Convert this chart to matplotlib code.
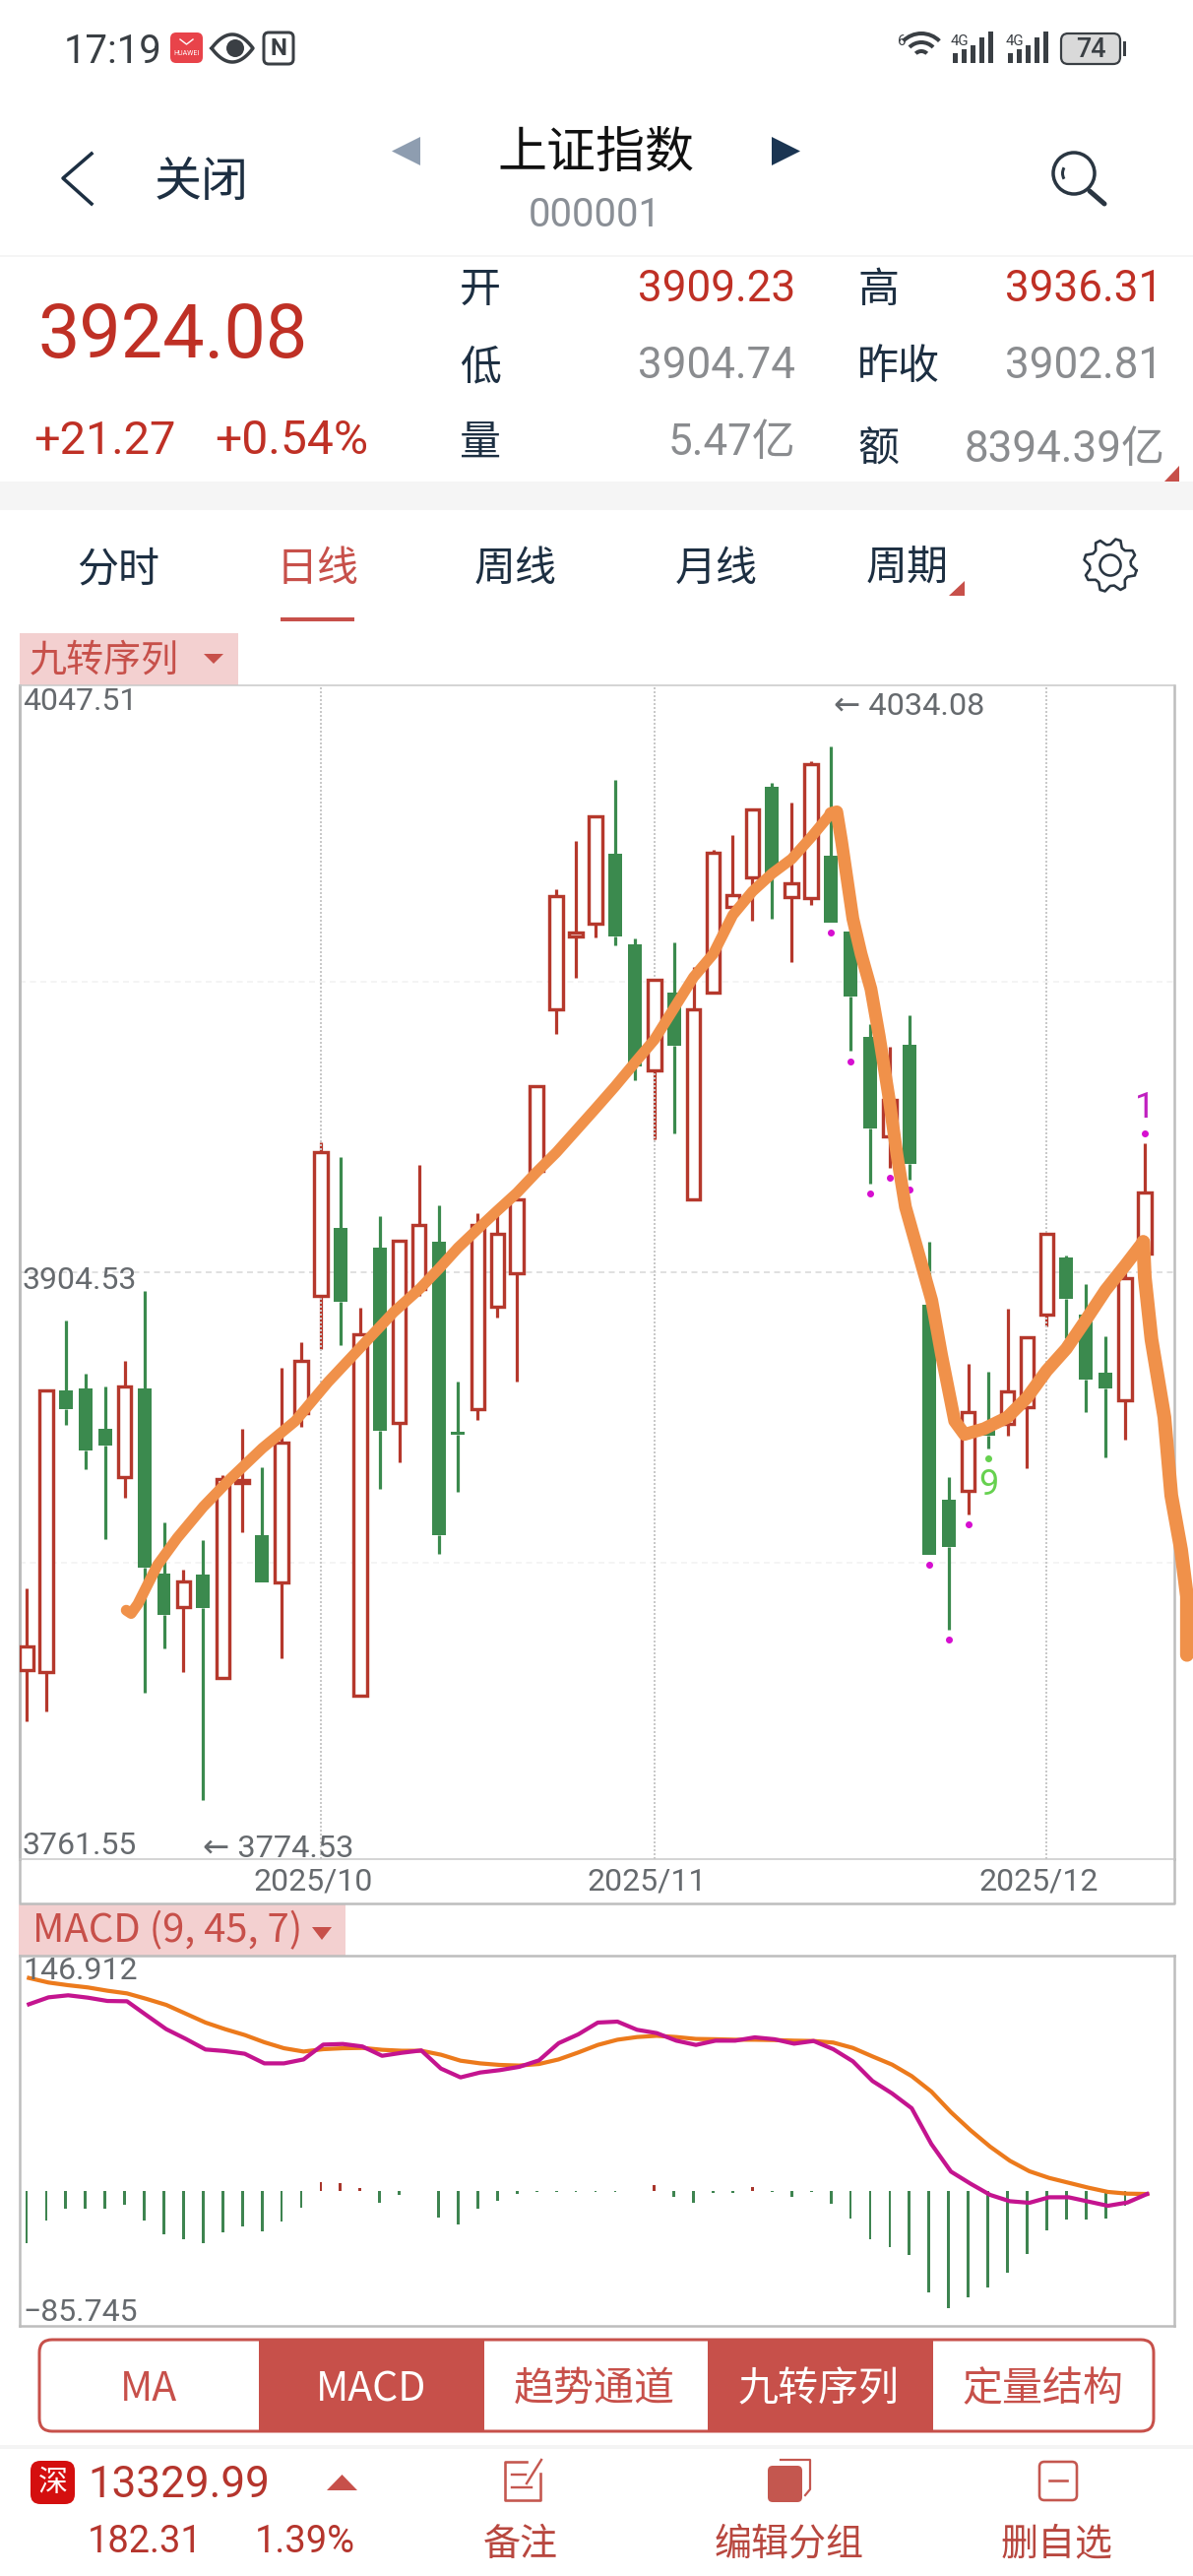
import numpy as np
import matplotlib
matplotlib.use("Agg")
import matplotlib.pyplot as plt
from matplotlib.patches import Rectangle, FancyBboxPatch, Polygon, Circle, Wedge
from matplotlib.transforms import ScaledTranslation

plt.rcParams['font.family'] = ['Noto Sans CJK SC', 'DejaVu Sans']

# ------------------------- data -------------------------
opens = [3806.5,3806.1,3875.4,3875.9,3866.0,3854.2,3875.9,3830.3,3822.0,3830.1,
         3804.6,3852.7,3839.7,3828.2,3869.8,3898.6,3915.4,3800.2,3910.6,3867.5,
         3900.5,3912.0,3865.2,3870.9,3896.1,3904.3,3929.6,3969.3,3987.2,3990.4,
         4007.7,3985.2,3954.2,3973.5,3922.5,3973.5,3994.6,4001.7,4024.0,3996.8,
         3996.6,4007.1,3988.5,3962.4,3937.9,3960.5,3896.6,3848.5,3850.6,3866.0,
         3867.3,3871.3,3894.1,3908.1,3894.0,3879.8,3873.0,3909.23]
closes = [3812.3,3875.4,3870.8,3860.6,3861.9,3876.3,3831.8,3820.1,3828.5,3821.8,
          3853.5,3853.3,3828.2,3862.7,3882.8,3934.0,3897.2,3889.3,3865.4,3912.4,
          3916.2,3839.9,3864.4,3916.2,3913.9,3922.5,3950.3,3997.1,3988.3,4016.7,
          3987.2,3955.1,3976.6,3960.3,3969.3,4007.9,3997.5,4018.6,4002.7,4000.2,
          4029.7,3990.6,3972.4,3940.0,3946.9,3931.2,3834.9,3836.8,3870.0,3864.2,
          3875.2,3888.6,3914.1,3898.0,3878.0,3875.9,3903.0,3924.08]
highs = [3826.7,3875.4,3892.6,3879.6,3876.5,3882.6,3899.9,3842.9,3831.4,3838.5,
         3854.6,3866.0,3856.5,3880.9,3887.4,3936.5,3932.9,3895.7,3918.3,3912.4,
         3931.0,3921.0,3877.6,3919.1,3918.7,3922.5,3950.3,3998.9,4010.8,4016.7,
         4025.7,3986.8,3976.8,3985.8,3979.7,4008.6,4012.1,4018.8,4025.1,4020.3,
         4030.3,4034.08,3988.7,3965.7,3960.1,3967.8,3912.0,3854.1,3882.1,3880.0,
         3895.5,3888.6,3914.3,3908.7,3901.6,3888.8,3907.8,3936.31]
lows = [3794.0,3796.5,3866.9,3856.0,3838.7,3849.1,3801.1,3811.9,3806.1,3774.53,
        3804.6,3840.6,3828.2,3809.4,3866.5,3885.7,3886.5,3800.2,3851.2,3857.7,
        3898.6,3835.3,3850.4,3868.1,3893.4,3877.6,3929.2,3963.2,3977.0,3987.0,
        3985.1,3951.9,3937.3,3938.6,3922.5,3973.5,3991.6,3991.0,3991.6,3980.8,
        3995.0,3990.6,3959.0,3926.4,3930.2,3927.3,3834.9,3816.5,3845.0,3861.2,
        3864.2,3856.2,3891.1,3888.2,3870.0,3859.0,3863.3,3904.74]

sell_setup_days = [41,42,43,44,45,46,47,48]
nine_day = 49
one_day = 57

pen_x = [5.08,5.33,5.67,6.67,7.68,9.01,10.35,12.02,13.70,15.37,17.04,18.71,20.05,
         21,22,23,24,25,26,27,28,29,30,31,32,33,34,35,36,37,38,39,40,41,41.3]
pen_y = [3821.3,3820.5,3822.8,3832.4,3839.1,3846.8,3853.5,3861.2,3867.9,3877.5,3886.1,3894.7,3900.5,
         3905.3,3910.6,3915.2,3919.7,3924.1,3929.2,3934.0,3939.4,3944.8,3950.3,3956.1,3961.8,3969.5,
         3977.2,3982.9,3992.5,3998.3,4002.7,4006.3,4011.7,4017.5,4017.9]
pen2_x = [41.0,41.3,41.54,42.12,42.54,43.04,43.46,43.96,44.38,44.80,45.47,46.14,46.64,47.31,47.81,48.81,
          49.99,50.99,52,53,54,55,56,56.92]
pen2_y = [4017.5,4017.9,4010.8,3991.6,3982.9,3974.3,3962.8,3947.5,3933.1,3920.6,3909.1,3897.6,3884.2,3867.9,
          3864.6,3866.0,3868.8,3873.6,3880.3,3885.7,3892.8,3900.1,3906.2,3912.0]
pen3_x = [56.92,57.0,57.34,58.0,58.35,58.85,59.15,59.15]
pen3_y = [3912.0,3903.3,3888.0,3868.8,3849.6,3836.2,3824.7,3810.3]

macd_hist = [-33.3,-18.5,-11.5,-11.0,-11.25,-9.0,-19.0,-27.7,-30.4,-33.1,
             -26.5,-22.3,-25.6,-19.2,-10.4,5.6,5.2,1.7,-7.5,-2.5,
             -0.2,-17.1,-21.3,-11.25,-6.5,-2.1,-0.5,-0.5,-0.5,-0.4,
             -0.4,-0.3,4.0,-4.0,-7.5,-1.0,-1.0,2.5,-0.4,-4.0,
             -0.4,-8.3,-17.7,-30.8,-35.6,-40.8,-64.6,-74.2,-67.7,-61.5,
             -51.9,-40.0,-24.8,-18.3,-18.1,-17.3,-9.4,-0.2]
dif = [118.5,122.9,124.2,122.7,120.6,120.4,111.5,102.7,96.5,89.8,
       88.8,87.1,81.0,81.0,83.5,92.9,93.3,91.7,85.8,87.7,
       89.2,77.7,72.1,75.2,76.7,78.8,82.9,93.8,99.4,106.9,
       107.5,102.3,100.2,95.4,92.7,95.4,95.4,97.5,96.3,93.5,
       95.2,90.0,82.3,69.8,61.9,52.5,29.8,12.3,4.6,-2.5,
       -6.5,-7.5,-4.0,-4.0,-6.7,-9.4,-7.3,-1.9]
dea = [135.2,132.3,130.6,129.2,127.1,125.4,121.9,118.1,112.5,106.9,
       102.7,99.0,94.4,90.6,88.5,90.0,90.6,90.8,89.6,89.0,
       89.0,86.5,82.7,81.0,80.0,79.6,80.6,83.5,87.9,92.7,
       96.0,97.7,98.5,97.7,96.5,96.3,96.0,96.0,95.8,95.4,
       95.2,94.2,90.8,85.4,80.2,72.9,63.1,50.0,38.5,28.1,
       19.2,12.5,8.3,5.2,2.1,-0.6,-1.7,-1.9]

month_pos = [15, 32, 52]
month_labels = ['2025/10', '2025/11', '2025/12']
price_labels = ['4047.51', '3904.53', '3761.55']

# ------------------------- style -------------------------
W, H = 1212, 2616
DPI = 100
RED = '#b5382c'
GREEN = '#3b8a4e'
UI_RED = '#c7504a'
PALE = '#f3d0d0'
GRAY = '#666a6e'
NAVY = '#1d2f42'
FRAME = '#bdbdbd'
SANS = ['Noto Sans CJK SC', 'DejaVu Sans']
NUM = ['Roboto', 'DejaVu Sans']

def px(v):
    return v * 72.0 / DPI

fig = plt.figure(figsize=(W / DPI, H / DPI), dpi=DPI, facecolor='white')

def box(l, t, r, b):
    return [l / W, 1 - b / H, (r - l) / W, (b - t) / H]

ui = fig.add_axes([0, 0, 1, 1], zorder=0)
ui.set_xlim(0, W); ui.set_ylim(H, 0); ui.axis('off')

TEXT_DY = 4  # glyph boxes sit a little high when centred

def T(x, y, s, size, color=NAVY, ha='left', fam=SANS, weight='normal', a=ui, **kw):
    return a.text(x, y + TEXT_DY, s, fontsize=px(size), color=color, ha=ha, va='center',
                  family=fam, fontweight=weight, **kw)

def tri(pts, color, a=ui):
    a.add_patch(Polygon(pts, closed=True, fc=color, ec='none'))

# ---- status bar
T(65, 49, '17:19', 40, '#3a3f44', fam=NUM)
ui.add_patch(FancyBboxPatch((176, 36), 27, 25, boxstyle='round,pad=3,rounding_size=6', fc='#e8434a', ec='none'))
ui.text(189.5, 54, 'HUAWEI', fontsize=px(7), color='white', ha='center', va='center', family=NUM)
ui.plot([183, 189.5, 196], [40, 45, 40], color='white', lw=1)
ex = np.linspace(-21, 21, 41)
ey = 14 * (1 - (ex / 21) ** 2)
ui.plot(np.r_[236 + ex, 236 - ex], np.r_[49 - ey, 49 + ey[::-1]], color='#3a3f44', lw=px(3.5))
ui.add_patch(Circle((239, 49), 9, fc='#3a3f44', ec='none'))
ui.add_patch(FancyBboxPatch((271, 36), 24, 26, boxstyle='round,pad=3,rounding_size=5', fc='none', ec='#3a3f44', lw=px(3)))
ui.text(283, 50, 'N', fontsize=px(24), color='#3a3f44', ha='center', va='center', family=NUM, fontweight='bold')
ui.text(912, 42, '6', fontsize=px(15), color='#3a3f44', family=NUM, va='center')
for r in (28, 19, 10):
    ui.add_patch(Wedge((936, 60), r, 225, 315, width=4, fc='#3a3f44', ec='none'))
for x0_ in (968, 1024):
    ui.text(x0_ - 2, 42, '4G', fontsize=px(15), color='#3a3f44', family=NUM, va='center')
    for i, h in enumerate((10, 14, 18, 26, 32)):
        ui.add_patch(Rectangle((x0_ + i * 9, 64 - h), 5, h, fc='#3a3f44', ec='none'))
ui.add_patch(FancyBboxPatch((1080, 36), 56, 27, boxstyle='round,pad=2,rounding_size=7', fc='#d9d9d9', ec='#3a3f44', lw=px(2.2)))
ui.add_patch(Rectangle((1141, 42), 3, 15, fc='#3a3f44', ec='none'))
ui.text(1108, 50, '74', fontsize=px(27), color='#3a3f44', ha='center', va='center', family=NUM, fontweight='medium')

# ---- title row
ui.plot([93, 64, 93], [156, 181, 207], color=NAVY, lw=px(3.5))
T(157, 181, '关闭', 48)
tri([(427, 139), (427, 168), (398, 153.5)], '#8e9db0')
tri([(784, 139), (784, 168), (813, 153.5)], '#1b3552')
T(605, 152, '上证指数', 50, '#111111', ha='center', weight='medium')
T(604, 214, '000001', 40, '#8a8f96', ha='center', fam=NUM)
ui.add_patch(Circle((1091, 176), 21, fc='none', ec='#2a3642', lw=px(3.5)))
ui.plot([1107, 1122], [194, 207], color='#2a3642', lw=px(5), solid_capstyle='round')
ui.add_patch(Wedge((1091, 176), 13, 150, 210, width=3, fc='#2a3642', ec='none'))
ui.add_patch(Rectangle((0, 259), W, 2, fc='#f5f5f5', ec='none'))

# ---- quote block
QRED = '#bf3025'
QGRAY = '#8a8c8f'
T(38, 338, '3924.08', 75.5, QRED, fam=NUM)
T(34, 444, '+21.27', 47, QRED, fam=NUM)
T(218, 444, '+0.54%', 48, QRED, fam=NUM)
for y, s in ((291, '开'), (369, '低'), (447, '量')):
    T(467, y, s, 42)
for y, s in ((291, '高'), (369, '昨收'), (453, '额')):
    T(871, y, s, 42)
T(808, 290, '3909.23', 44, QRED, ha='right', fam=NUM)
T(808, 368, '3904.74', 44, QGRAY, ha='right', fam=NUM)
T(808, 446, '5.47亿', 44, QGRAY, ha='right', fam=NUM + SANS)
T(1181, 290, '3936.31', 44, QRED, ha='right', fam=NUM)
T(1181, 368, '3902.81', 44, QGRAY, ha='right', fam=NUM)
T(1184, 453, '8394.39亿', 44, QGRAY, ha='right', fam=NUM + SANS)
tri([(1198, 473), (1198, 489), (1183, 489)], UI_RED)
ui.add_patch(Rectangle((0, 489), W, 29, fc='#f5f5f5', ec='none'))

# ---- period tabs
for cx, s, c in ((120, '分时', NAVY), (323, '日线', UI_RED), (524, '周线', NAVY), (728, '月线', NAVY), (922, '周期', NAVY)):
    T(cx, 574, s, 42, c, ha='center')
ui.add_patch(Rectangle((285, 627), 75, 3.5, fc=UI_RED, ec='none'))
tri([(980, 590), (980, 605), (964, 605)], UI_RED)
n = 8
th = np.linspace(0, 2 * np.pi, n * 4 + 1)
rr = np.tile([27, 27, 21, 21], n + 1)[:len(th)]
ui.plot(1128 + rr * np.cos(th + 0.2), 574 + rr * np.sin(th + 0.2), color='#2a3642', lw=px(2.6))
ui.add_patch(Circle((1128, 574), 10.5, fc='none', ec='#2a3642', lw=px(2.6)))

# ---- indicator tabs
ui.add_patch(Rectangle((20, 643), 222, 53, fc=PALE, ec='none'))
T(30, 667, '九转序列', 38, UI_RED)
tri([(207, 664), (227, 664), (217, 674)], UI_RED)
ui.add_patch(Rectangle((19, 1934), 332, 52, fc=PALE, ec='none'))
T(33, 1957, 'MACD (9, 45, 7)', 40, UI_RED)
tri([(317, 1957), (337, 1957), (327, 1970)], UI_RED)

# ---- x-axis strip frame
ui.plot([20, 20, 1193, 1193], [1888, 1933, 1933, 1888], color=FRAME, lw=px(2.5))

# ------------------------- price axes -------------------------
ax = fig.add_axes(box(20, 696, 1193, 1888), zorder=2)
SLOT = 19.93
x0 = (20 - 27) / SLOT
x1 = (1193 - 27) / SLOT
ax.set_xlim(x0, x1)
PX_PER_PT = 4.124
ax.set_ylim(3904.53 - (1888 - 1292) / PX_PER_PT, 3904.53 + (1292 - 696) / PX_PER_PT)
ax.patch.set_alpha(0)
for s in ax.spines.values():
    s.set_color('#c8c8c8'); s.set_linewidth(px(1.5))
ax.spines['left'].set_linewidth(px(3)); ax.spines['left'].set_color(FRAME)
ax.spines['right'].set_linewidth(px(2.5)); ax.spines['right'].set_color(FRAME)

xs = np.arange(len(opens))
o, c, hi, lo = map(np.array, (opens, closes, highs, lows))
up = c >= o
top = np.maximum(o, c)
bot = np.minimum(o, c)
cols = np.where(up, RED, GREEN)

# wicks
ax.vlines(xs, top, hi, colors=cols, lw=px(3.2), zorder=1)
ax.vlines(xs, lo, bot, colors=cols, lw=px(3.2), zorder=1)
# grid
ax.set_yticks([4047.51, 3904.53, 3761.55])
ax.set_yticklabels([])
ax.tick_params(axis='y', length=0)
ax.axhline(3904.53, color='#d6d6d6', lw=px(1.5), ls=(0, (4, 3)), zorder=2)
for lev in (3976.0, 3833.0):
    ax.axhline(lev, color='#f1f1f1', lw=px(1.5), ls=(0, (4, 3)), zorder=0)
for p in month_pos:
    ax.axvline(p, color='#c9c9c9', lw=px(2), ls=(0, (1, 1)), zorder=2)
# bodies
ax.bar(xs[up], (top - bot)[up], bottom=bot[up], width=0.68, facecolor='white', edgecolor=RED,
       linewidth=px(3.4), zorder=3)
ax.bar(xs[~up], (top - bot)[~up], bottom=bot[~up], width=0.7, color=GREEN, linewidth=0, zorder=3)
# nine-turn dots
MAG = '#d60fd0'
dot_off = 2.5
ax.scatter(sell_setup_days, lo[sell_setup_days] - dot_off, s=px(7) ** 2, marker='o', color=MAG, zorder=4, linewidths=0)
ax.scatter([nine_day], [lo[nine_day] - dot_off], s=px(7) ** 2, color='#66d14f', zorder=4, linewidths=0)
ax.scatter([one_day], [hi[one_day] + dot_off], s=px(7) ** 2, color=MAG, zorder=4, linewidths=0)
ax.text(nine_day + 0.02, lo[nine_day] - 9, '9', color='#66d14f', fontsize=px(36), ha='center', va='center', family=NUM, zorder=4)
ax.text(one_day, hi[one_day] + 8.6, '1', color='#c020c0', fontsize=px(36), ha='center', va='center', family=NUM, zorder=4)

# axis-value labels
for v, lab in zip((4045.1, 3902.4, 3763.4), price_labels):
    ax.text(x0 + 0.15, v, lab, color=GRAY, fontsize=px(32), ha='left', va='center', family=NUM, zorder=5)
ax.annotate('← 4034.08', (41, 0), xycoords=('data', 'axes fraction'), xytext=(847, 717), textcoords=ui.transData,
            color=GRAY, fontsize=px(32.5), va='center', ha='left', family=NUM, annotation_clip=False)
ax.annotate('← 3774.53', (9, 0), xycoords=('data', 'axes fraction'), xytext=(206, 1878), textcoords=ui.transData,
            color=GRAY, fontsize=px(32.5), va='center', ha='left', family=NUM, annotation_clip=False)

ax.set_xticks(month_pos, month_labels)
ax.tick_params(axis='x', length=0, pad=px(9), labelsize=px(32), labelcolor=GRAY)
for lab in ax.get_xticklabels():
    lab.set_family(NUM)
    lab.set_transform(lab.get_transform() + ScaledTranslation(-8 / DPI, 0, fig.dpi_scale_trans))

# hand-drawn orange strokes (in front of everything, over the frame)
PEN = '#f0914a'
ax.plot(pen_x, pen_y, color=PEN, lw=px(11), solid_capstyle='round', solid_joinstyle='round', zorder=6, clip_on=False)
ax.plot(pen2_x, pen2_y, color=PEN, lw=px(13), solid_capstyle='round', solid_joinstyle='round', zorder=6, clip_on=False)
ax.plot(pen3_x, pen3_y, color=PEN, lw=px(14), solid_capstyle='round', solid_joinstyle='round', zorder=6, clip_on=False)

# ------------------------- MACD axes -------------------------
mx = fig.add_axes(box(20, 1986, 1193, 2362), zorder=2)
mx.set_xlim(x0, x1)
M_SCALE = 1.6
mx.set_ylim((2225 - 2362) / M_SCALE, (2225 - 1986) / M_SCALE)
mx.patch.set_alpha(0)
for s in mx.spines.values():
    s.set_color(FRAME); s.set_linewidth(px(2.5))
mx.set_xticks([]); mx.set_yticks([])
hist = np.array(macd_hist)
mx.bar(xs, hist, width=0.14, color=np.where(hist > 0, '#a8352b', '#3e8450'), linewidth=0, zorder=1)
mx.plot(xs + 0.12, dea, color='#ec7a1c', lw=px(4.2), zorder=2, solid_joinstyle='round')
mx.plot(xs + 0.12, dif, color='#c4148f', lw=px(4.2), zorder=3, solid_joinstyle='round')
mx.text(x0 + 0.15, 139.5, '146.912', color=GRAY, fontsize=px(32), ha='left', va='center', family=NUM, zorder=5)
mx.text(x0 + 0.15, -77.0, '−85.745', color=GRAY, fontsize=px(32), ha='left', va='center', family=NUM, zorder=5)

# ------------------------- bottom button bar -------------------------
ui.add_patch(FancyBboxPatch((53, 2389), 1106, 67, boxstyle='round,pad=13,rounding_size=13', fc='white', ec=UI_RED, lw=px(3)))
ui.add_patch(Rectangle((263, 2377), 229, 92, fc=UI_RED, ec='none'))
ui.add_patch(Rectangle((719, 2377), 229, 92, fc=UI_RED, ec='none'))
for cx, s, col in ((151, 'MA', UI_RED), (377, 'MACD', 'white'), (604, '趋势通道', UI_RED),
                   (832, '九转序列', 'white'), (1060, '定量结构', UI_RED)):
    T(cx, 2423, s, 41, col, ha='center')
ui.add_patch(Rectangle((0, 2483), W, 4, fc='#f4f4f4', ec='none'))

ui.add_patch(FancyBboxPatch((36, 2504), 35, 34, boxstyle='round,pad=5,rounding_size=10', fc='#d40f0f', ec='none'))
T(53.5, 2518, '深', 30, 'white', ha='center')
T(89, 2520, '13329.99', 44, '#b5352d', fam=NUM)
tri([(332, 2529), (363, 2529), (347.5, 2513)], UI_RED)
T(89, 2578, '182.31', 38, '#b5352d', fam=NUM)
T(259, 2578, '1.39%', 38, '#b5352d', fam=NUM)
ICON = '#c4574f'
ui.plot([535, 513, 513, 549, 549], [2500, 2500, 2539, 2539, 2512], color=ICON, lw=px(2.6))
ui.plot([535, 550], [2522, 2498], color=ICON, lw=px(2.4))
ui.plot([520, 534], [2513, 2513], color=ICON, lw=px(2.4))
ui.plot([520, 540], [2526, 2526], color=ICON, lw=px(2.4))
ui.add_patch(FancyBboxPatch((783, 2507), 29, 31, boxstyle='round,pad=3,rounding_size=5', fc=ICON, ec='none'))
ui.plot([793, 823, 823, 818], [2498, 2498, 2528, 2534], color=ICON, lw=px(2.2))
ui.add_patch(FancyBboxPatch((1058, 2502), 34, 35, boxstyle='round,pad=2,rounding_size=5', fc='none', ec=ICON, lw=px(2.6)))
ui.plot([1066, 1084], [2519, 2519], color=ICON, lw=px(2.6))
for cx, s in ((529, '备注'), (802, '编辑分组'), (1074, '删自选')):
    T(cx, 2580, s, 38, '#b8473f', ha='center')

fig.savefig('out.png', dpi=DPI, facecolor='white')
